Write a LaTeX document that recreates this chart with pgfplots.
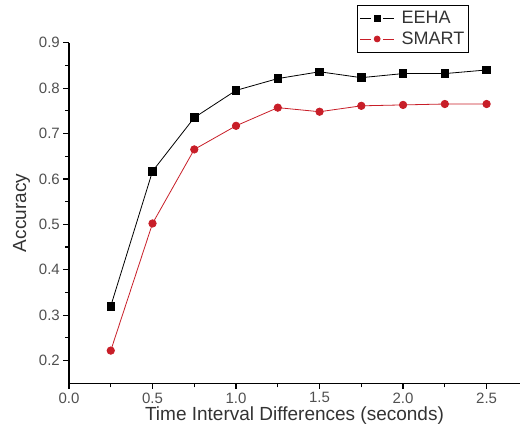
\documentclass[border=0pt]{standalone}
\usepackage{fontspec}
\setmainfont{Liberation Sans}
\usepackage{pgfplots}
\pgfplotsset{compat=1.18}
\definecolor{smartred}{RGB}{200,30,40}
\definecolor{tickgray}{RGB}{80,80,80}
\begin{document}
\begin{tikzpicture}
  \path[use as bounding box] (-69pt,-53.7pt) rectangle (452pt,383.3pt);
  \begin{axis}[
    at={(0,0)}, anchor=south west,
    scale only axis,
    width=451pt, height=340.6pt,
    xmin=0, xmax=2.7,
    ymin=0.15, ymax=0.9,
    axis lines=left,
    axis line style={-, line width=1.4pt, black},
    xtick={0,0.5,...,2.5},
    ytick={0.2,0.3,...,0.9},
    minor x tick num=1, minor y tick num=1,
    tick align=outside,
    major tick length=0.2cm, minor tick length=0.14cm,
    tick style={black, line width=1.2pt},
    xticklabel style={/pgf/number format/fixed, /pgf/number format/fixed zerofill, /pgf/number format/precision=1},
    yticklabel style={/pgf/number format/fixed, /pgf/number format/fixed zerofill, /pgf/number format/precision=1},
    /pgf/number format/assume math mode=true,
    ticklabel style={font=\fontsize{15}{17}\selectfont, text=tickgray},
    xlabel={Time Interval Differences (seconds)},
    ylabel={Accuracy},
    label style={font=\fontsize{19}{21}\selectfont, text=black!80},
    xlabel style={yshift=3pt},
    ylabel style={yshift=2pt},
    legend style={at={(0.639,1.112)}, anchor=north west,
      draw=black, line width=1pt, font=\fontsize{18}{20}\selectfont,
      inner xsep=2pt, inner ysep=4pt, row sep=3pt, text=black!80,
      /tikz/column 1/.style={column sep=5pt}},
    legend cell align=left,
    legend image code/.code={
      \draw[#1, mark=none] (0cm,0cm) -- (0.4cm,0cm);
      \draw[#1, mark=none] (0.8cm,0cm) -- (1.2cm,0cm);
      \draw[#1, mark options={scale=0.8}] plot coordinates {(0.6cm,0cm)};
    },
  ]
    \addplot[black, line width=0.8pt, mark=square*, mark size=3.8pt,
      mark options={solid, fill=black}] coordinates {
      (0.25,0.320) (0.50,0.617) (0.75,0.735) (1.00,0.795) (1.25,0.821)
      (1.50,0.836) (1.75,0.823) (2.00,0.832) (2.25,0.832) (2.50,0.840)
    };
    \addplot[smartred, line width=0.8pt, mark=*, mark size=3.7pt,
      mark options={solid, fill=smartred}] coordinates {
      (0.25,0.222) (0.50,0.502) (0.75,0.665) (1.00,0.717) (1.25,0.757)
      (1.50,0.748) (1.75,0.761) (2.00,0.763) (2.25,0.765) (2.50,0.765)
    };
    \legend{EEHA, SMART}
  \end{axis}
\end{tikzpicture}
\end{document}
